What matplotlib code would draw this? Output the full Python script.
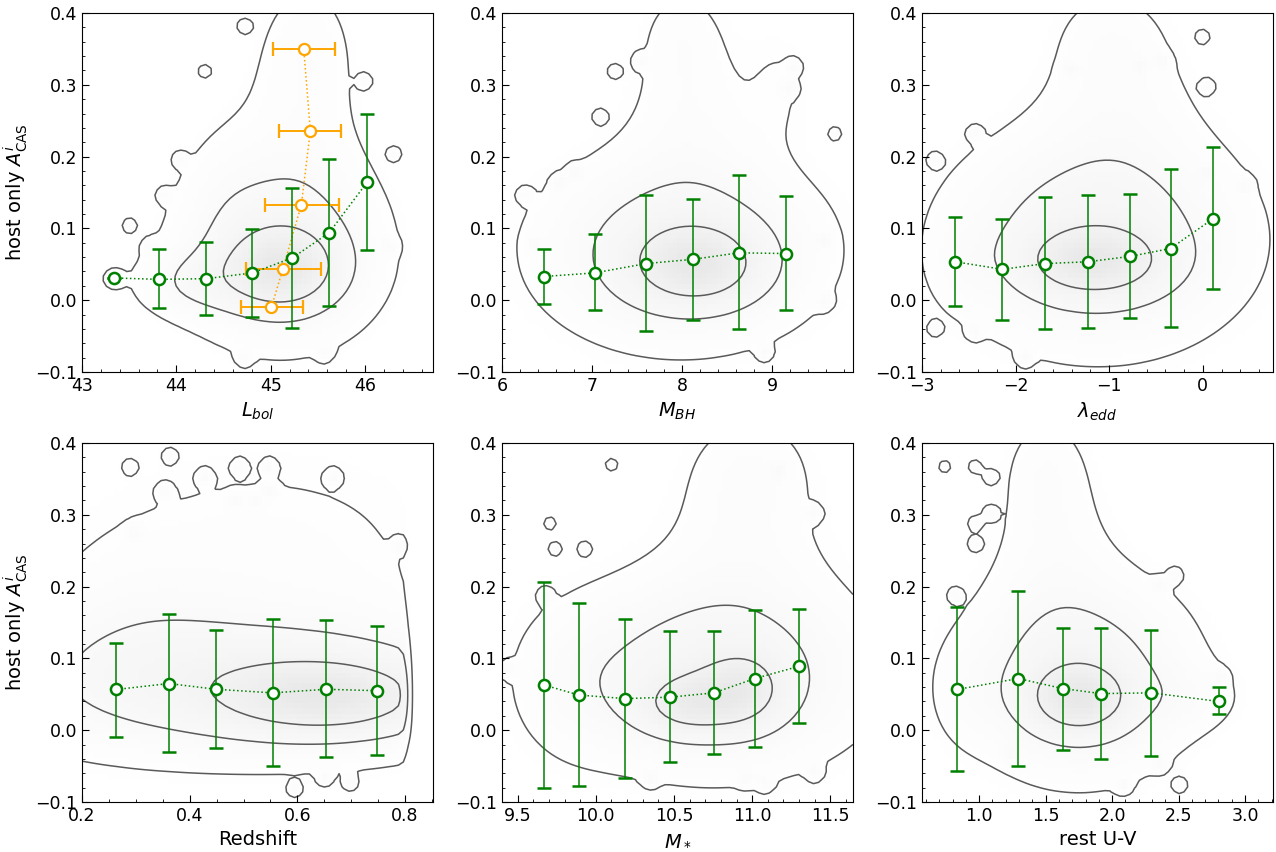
import numpy as np
import matplotlib
matplotlib.use("Agg")
import matplotlib.pyplot as plt

# ---------------- data ----------------
ylim = (-0.1, 0.4)
ylabel = r"host only $A^{i}_{\rm CAS}$"

xlabels = [r"$L_{bol}$", r"$M_{BH}$", r"$\lambda_{edd}$", "Redshift", r"$M_*$", "rest U-V"]
xlims = [(43.0, 46.72), (6.0, 9.9), (-3.0, 0.75), (0.2, 0.852), (9.4, 11.645), (0.57, 3.21)]

# binned medians (green)
lbol_x = [43.336, 43.816, 44.318, 44.806, 45.23, 45.62, 46.02]
lbol_y = [0.031, 0.029, 0.030, 0.038, 0.059, 0.094, 0.164]
lbol_lo = [0.031, -0.011, -0.020, -0.023, -0.039, -0.008, 0.070]
lbol_hi = [0.031, 0.071, 0.081, 0.099, 0.156, 0.197, 0.260]

mbh_x = [6.463, 7.03, 7.60, 8.126, 8.633, 9.152]
mbh_y = [0.033, 0.038, 0.051, 0.057, 0.066, 0.065]
mbh_lo = [-0.005, -0.014, -0.043, -0.028, -0.040, -0.013]
mbh_hi = [0.071, 0.092, 0.147, 0.141, 0.174, 0.145]

ledd_x = [-2.643, -2.14, -1.687, -1.23, -0.777, -0.345, 0.104]
ledd_y = [0.0535, 0.043, 0.051, 0.0535, 0.061, 0.072, 0.113]
ledd_lo = [-0.008, -0.028, -0.040, -0.039, -0.025, -0.037, 0.016]
ledd_hi = [0.116, 0.113, 0.144, 0.147, 0.148, 0.183, 0.213]

z_x = [0.2638, 0.361, 0.449, 0.554, 0.654, 0.748]
z_y = [0.0567, 0.065, 0.057, 0.052, 0.057, 0.055]
z_lo = [-0.009, -0.031, -0.025, -0.050, -0.038, -0.034]
z_hi = [0.122, 0.162, 0.140, 0.155, 0.153, 0.145]

ms_x = [9.671, 9.891, 10.187, 10.475, 10.755, 11.018, 11.30]
ms_y = [0.0628, 0.049, 0.044, 0.046, 0.052, 0.072, 0.089]
ms_lo = [-0.081, -0.078, -0.066, -0.044, -0.033, -0.023, 0.010]
ms_hi = [0.207, 0.177, 0.155, 0.138, 0.138, 0.167, 0.169]

uv_x = [0.834, 1.294, 1.628, 1.915, 2.296, 2.804]
uv_y = [0.0567, 0.072, 0.058, 0.051, 0.052, 0.040]
uv_lo = [-0.057, -0.050, -0.027, -0.040, -0.036, 0.022]
uv_hi = [0.172, 0.194, 0.142, 0.142, 0.140, 0.060]

# orange binned (in A) for L_bol panel
or_y = [-0.010, 0.044, 0.133, 0.236, 0.350]
or_x = [45.007, 45.13, 45.325, 45.42, 45.35]
or_xlo = [44.68, 44.74, 44.94, 45.09, 45.025]
or_xhi = [45.34, 45.53, 45.72, 45.75, 45.68]

# density model of the underlying sample: blobs (x, y, sx, sy, weight)
lbol_blobs = [(45.12, 0.043, 0.38, 0.036, 0.60), (45.1, 0.07, 0.65, 0.08, 0.40),
              (44.2, 0.025, 0.40, 0.030, 0.20), (45.3, 0.25, 0.45, 0.10, 0.10),
              (45.4, 0.36, 0.30, 0.06, 0.08), (44.5, 0.15, 0.30, 0.07, 0.05),
              (43.33, 0.03, 0.08, 0.010, 0.12)]
mbh_blobs = [(8.17, 0.048, 0.47, 0.037, 0.50), (7.98, 0.07, 0.95, 0.08, 0.40),
             (8.1, 0.26, 0.50, 0.09, 0.10), (8.0, 0.37, 0.30, 0.05, 0.07),
             (9.1, 0.30, 0.25, 0.06, 0.06)]
ledd_blobs = [(-1.17, 0.053, 0.48, 0.031, 0.50), (-1.12, 0.085, 0.95, 0.092, 0.42),
              (-0.9, 0.28, 0.55, 0.08, 0.10), (-1.0, 0.37, 0.40, 0.05, 0.07),
              (-2.6, 0.05, 0.20, 0.04, 0.06)]
z_blobs = [(0.66, 0.045, 0.13, 0.035, 0.55), (0.50, 0.065, 0.30, 0.065, 0.40),
           (0.55, 0.25, 0.25, 0.11, 0.09), (0.30, 0.15, 0.12, 0.08, 0.08)]
ms_blobs = [(10.6, 0.035, 0.22, 0.028, 0.40), (10.95, 0.055, 0.18, 0.035, 0.35),
            (10.75, 0.08, 0.60, 0.084, 0.40), (10.95, 0.28, 0.35, 0.09, 0.10),
            (11.0, 0.37, 0.25, 0.05, 0.07), (9.85, 0.06, 0.25, 0.07, 0.08)]
uv_blobs = [(1.75, 0.043, 0.25, 0.032, 0.50), (1.75, 0.075, 0.52, 0.085, 0.40),
            (1.55, 0.27, 0.30, 0.09, 0.10), (1.5, 0.37, 0.20, 0.05, 0.07),
            (2.6, 0.045, 0.25, 0.030, 0.08), (0.9, 0.05, 0.18, 0.05, 0.06)]

# isolated objects (small islands of the lowest contour)
lbol_iso = [(44.72, 0.382), (44.30, 0.319), (44.035, 0.196), (43.87, 0.146), (43.5, 0.104),
            (43.72, 0.075), (46.0, 0.305), (46.31, 0.204), (46.26, 0.075), (44.72, -0.081),
            (45.57, -0.074)]
mbh_iso = [(6.25, 0.147), (6.64, 0.163), (6.81, 0.177), (7.085, 0.256), (7.25, 0.319),
           (7.53, 0.333), (9.7, 0.232), (9.2, 0.295), (9.25, 0.325), (9.585, 0.084),
           (9.585, -0.002), (8.92, -0.074), (6.36, 0.077)]
ledd_iso = [(-2.865, 0.195), (-2.44, 0.233), (-2.865, -0.04), (-2.44, -0.044), (-1.9, -0.081),
            (-1.42, 0.321), (-0.676, 0.326), (-0.44, 0.333), (0.0, 0.367), (0.05, 0.298),
            (0.445, 0.16), (0.04, 0.177)]
z_iso = [(0.289, 0.367), (0.363, 0.382), (0.428, 0.353), (0.493, 0.367), (0.548, 0.367),
         (0.354, 0.333), (0.484, 0.319), (0.521, 0.319), (0.548, 0.333), (0.667, 0.353),
         (0.298, 0.274), (0.794, 0.257), (0.651, -0.067), (0.698, -0.074), (0.595, -0.083)]
ms_iso = [(9.707, 0.288), (9.739, 0.253), (9.927, 0.253), (9.675, 0.188), (10.1, 0.37),
          (11.17, 0.36), (11.4, 0.302), (10.35, -0.067), (10.96, -0.067), (11.08, -0.074),
          (11.4, -0.06), (9.434, 0.084)]
uv_iso = [(0.741, 0.367), (0.967, 0.367), (1.08, 0.353), (1.08, 0.302), (0.967, 0.288),
          (0.967, 0.26), (0.817, 0.188), (2.475, 0.216), (2.36, 0.202), (2.81, 0.074),
          (1.23, -0.033), (2.36, -0.047), (2.51, -0.077), (2.085, -0.077)]

# redshift sample upper limit
z_max = 0.805

panels = [
    dict(x=lbol_x, y=lbol_y, lo=lbol_lo, hi=lbol_hi, blobs=lbol_blobs, iso=lbol_iso, cut=None),
    dict(x=mbh_x, y=mbh_y, lo=mbh_lo, hi=mbh_hi, blobs=mbh_blobs, iso=mbh_iso, cut=None),
    dict(x=ledd_x, y=ledd_y, lo=ledd_lo, hi=ledd_hi, blobs=ledd_blobs, iso=ledd_iso, cut=None),
    dict(x=z_x, y=z_y, lo=z_lo, hi=z_hi, blobs=z_blobs, iso=z_iso, cut=z_max),
    dict(x=ms_x, y=ms_y, lo=ms_lo, hi=ms_hi, blobs=ms_blobs, iso=ms_iso, cut=None),
    dict(x=uv_x, y=uv_y, lo=uv_lo, hi=uv_hi, blobs=uv_blobs, iso=uv_iso, cut=None),
]

levels = [0.065, 0.26, 0.55]
iso_peak = 0.12
iso_frac = 0.015

# ---------------- figure ----------------
fig = plt.figure(figsize=(12.76, 8.52), dpi=100)
W, H = 1276.0, 852.0
lefts = [82, 502, 922]
bottoms = [372, 802]
aw, ah = 351, 359

for i, p in enumerate(panels):
    r, c = divmod(i, 3)
    ax = fig.add_axes([lefts[c] / W, 1 - bottoms[r] / H, aw / W, ah / H])
    x0, x1 = xlims[i]
    nx = ny = 72
    gx = np.linspace(x0, x1, nx)
    gy = np.linspace(ylim[0], ylim[1], ny)
    X, Y = np.meshgrid(gx, gy)
    D = np.zeros_like(X)
    for (bx, by, sx, sy, w) in p["blobs"]:
        D += w * np.exp(-0.5 * (((X - bx) / sx) ** 2 + ((Y - by) / sy) ** 2))
    sxi = iso_frac * (x1 - x0)
    syi = iso_frac * (ylim[1] - ylim[0])
    for (bx, by) in p["iso"]:
        D += iso_peak * np.exp(-0.5 * (((X - bx) / sxi) ** 2 + ((Y - by) / syi) ** 2))
    if p["cut"] is not None:
        D *= 1.0 / (1.0 + np.exp((X - p["cut"]) / 0.004))
    ax.pcolormesh(X, Y, D, cmap="Greys", vmin=0, vmax=D.max() / 0.17,
                  shading="auto", zorder=0, rasterized=True)
    ax.contour(X, Y, D, levels=levels, colors="#5a5a5a", linewidths=1.1, zorder=1)

    if i == 0:
        ox = np.array(or_x)
        oxerr = [ox - np.array(or_xlo), np.array(or_xhi) - ox]
        ax.errorbar(or_x, or_y, xerr=oxerr, fmt="o", color="orange", mfc="white",
                    mec="orange", ms=8, mew=1.6, capsize=5, elinewidth=1.4,
                    capthick=1.4, zorder=3)
        ax.plot(or_x, or_y, ls=":", color="orange", lw=1.1, zorder=2.5)

    gxp = np.array(p["x"])
    gyp = np.array(p["y"])
    yerr = [gyp - np.array(p["lo"]), np.array(p["hi"]) - gyp]
    ax.plot(gxp, gyp, ls=":", color="green", lw=1.1, zorder=3.5)
    ax.errorbar(gxp, gyp, yerr=yerr, fmt="o", color="green", mfc="white",
                mec="green", ms=8, mew=1.8, capsize=5, elinewidth=1.1,
                capthick=1.6, ecolor="green", zorder=4)

    ax.set_xlim(x0, x1)
    ax.set_ylim(*ylim)
    ax.set_yticks([-0.1, 0.0, 0.1, 0.2, 0.3, 0.4])
    ax.minorticks_on()
    ax.tick_params(which="both", direction="in", labelsize=12.5)
    ax.tick_params(which="major", length=5)
    ax.tick_params(which="minor", length=2.5)
    ax.set_xlabel(xlabels[i], fontsize=14)
    if c == 0:
        ax.set_ylabel(ylabel, fontsize=14)

fig.savefig("out.png", dpi=100)
